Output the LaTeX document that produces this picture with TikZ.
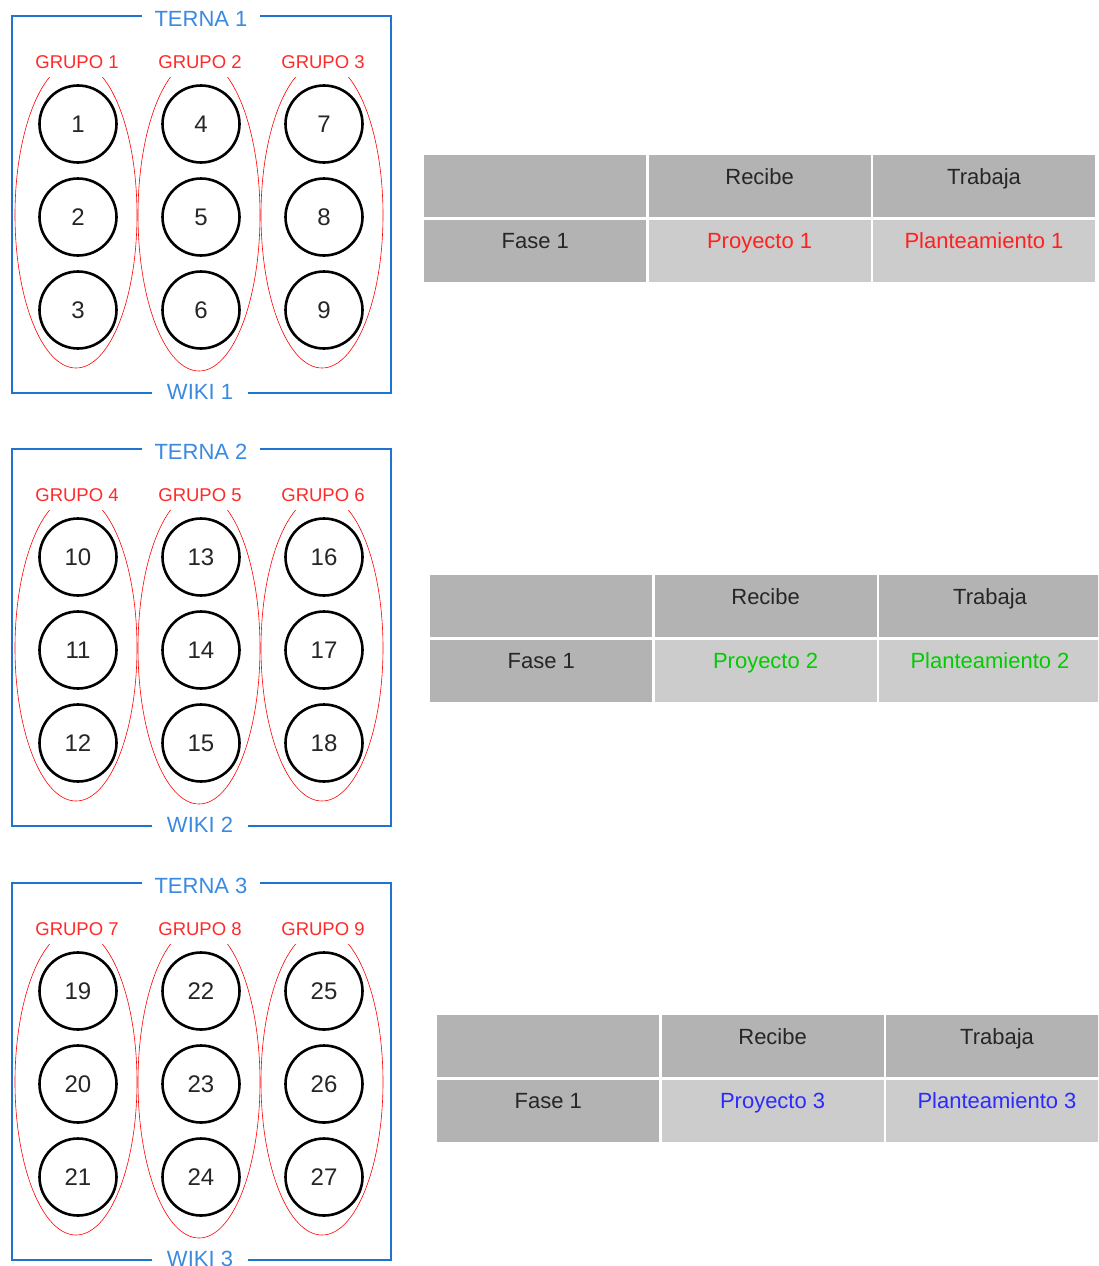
\documentclass[tikz,border=0pt]{standalone}
\usepackage{fontspec}
\setmainfont{Liberation Sans}
\usepackage{tikz}
\usetikzlibrary{positioning}
\definecolor{ternablue}{HTML}{1E74D0}
\definecolor{ternatext}{HTML}{3A8AE0}
\definecolor{grupored}{HTML}{FF2A2A}
\definecolor{headgray}{HTML}{B3B3B3}
\definecolor{cellgray}{HTML}{CCCCCC}
\definecolor{proyred}{HTML}{FF2020}
\definecolor{proygreen}{HTML}{00CC00}
\definecolor{proyblue}{HTML}{2B2BFF}

\tikzset{
  alumno/.style={circle,draw=black,line width=2.6pt,minimum size=77pt,inner sep=0pt,
    text=black!85,font=\fontsize{24}{26}\selectfont},
  grupo/.style={draw=red,line width=0.6pt},
  grupolabel/.style={fill=white,text=grupored,inner xsep=2pt,inner ysep=8pt,
    font=\fontsize{18.5}{20}\selectfont},
  ternabox/.style={draw=ternablue,line width=2.2pt},
  ternalabel/.style={fill=white,text=ternatext,inner xsep=13pt,inner ysep=3pt,
    font=\fontsize{22}{24}\selectfont},
  celda/.style={minimum width=222pt,minimum height=62pt,inner sep=0pt},
  celdatexto/.style={anchor=base,inner sep=0pt,font=\fontsize{22}{24}\selectfont}
}

\begin{document}
\begin{tikzpicture}[x=1pt,y=-1pt]
  \useasboundingbox (0,0) rectangle (1098,1266);
  \clip (0,0) rectangle (1098,1266);

  \foreach \k/\dy/\tx/\ty/\col in {1/0/424/155/proyred,2/433/430/575/proygreen,3/867/437/1015/proyblue}{
    % terna
    \draw[ternabox] (12,16+\dy) rectangle (391,393+\dy);
    % grupos
    \foreach \g/\gx/\ex/\ey in {1/78/76/153,2/201/199/156,3/324/322/153}{
      \pgfmathtruncatemacro{\gn}{3*(\k-1)+\g}
      \draw[grupo] (\ex,215+\dy) ellipse [x radius=61pt,y radius=\ey pt];
      \foreach \r/\ry in {1/124,2/217,3/310}{
        \pgfmathtruncatemacro{\n}{9*(\k-1)+3*(\g-1)+\r}
        \node[alumno] (a\n) at (\gx,\ry+\dy) {\n};
      }
      \node[grupolabel] (g\gn) at (\gx-1,62+\dy) {GRUPO \gn};
    }
    \node[ternalabel] (terna\k) at (201,19+\dy) {TERNA \k};
    \node[ternalabel,inner xsep=15pt] (wiki\k) at (200,392+\dy) {WIKI \k};

    % tabla
    \node[celda,fill=headgray,anchor=north west] (t\k h0) at (\tx,\ty) {};
    \node[celda,fill=headgray,right=2pt of t\k h0] (t\k h1) {};
    \node[celda,fill=headgray,right=2pt of t\k h1] (t\k h2) {};
    \node[celda,fill=headgray,below=2pt of t\k h0] (t\k f0) {};
    \node[celda,fill=cellgray,right=2pt of t\k f0] (t\k f1) {};
    \node[celda,fill=cellgray,right=2pt of t\k f1] (t\k f2) {};
    \node[celdatexto,text=black!85] (r\k) at ([yshift=-29pt]t\k h1.north) {Recibe};
    \node[celdatexto,text=black!85] (w\k) at ([yshift=-29pt]t\k h2.north) {Trabaja};
    \node[celdatexto,text=black!85] (fase\k) at ([yshift=-29pt]t\k f0.north) {Fase 1};
    \node[celdatexto,text=\col] (p\k) at ([yshift=-29pt]t\k f1.north) {Proyecto \k};
    \node[celdatexto,text=\col] (pl\k) at ([yshift=-29pt]t\k f2.north) {Planteamiento \k};
  }
\end{tikzpicture}
\end{document}
